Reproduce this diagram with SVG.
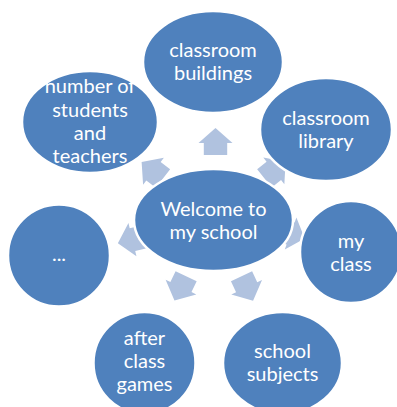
<svg xmlns="http://www.w3.org/2000/svg" width="397" height="407" viewBox="0 0 397 407">
<defs>
<style>
.node{fill:#4F81BD;stroke:#FFFFFF;stroke-width:2.5}
.lbl{font-family:Lato,"Liberation Sans",sans-serif;font-size:20px;fill:#FFFFFF;text-anchor:middle}
.arr{fill:#B0C2DF}
</style>
<path id="arrow" d="M0,-13.5 L17,1.5 L11.7,1.5 L11.7,13.5 L-11.7,13.5 L-11.7,1.5 L-17,1.5 Z"/>
</defs>
<rect width="397" height="407" fill="#FFFFFF"/>
<g id="connectors">
<use href="#arrow" class="arr" transform="translate(215.5,141.5)"/>
<use href="#arrow" class="arr" transform="translate(275,170) rotate(51.7)"/>
<use href="#arrow" class="arr" transform="translate(292,234) rotate(110)"/>
<use href="#arrow" class="arr" transform="translate(247.3,288.5) rotate(154.7)"/>
<use href="#arrow" class="arr" transform="translate(180.3,288.4) rotate(205.6)"/>
<use href="#arrow" class="arr" transform="translate(131,240) rotate(256.4)"/>
<use href="#arrow" class="arr" transform="translate(152.3,170.3) rotate(307.7)"/>
</g>
<g id="node-buildings">
<ellipse class="node" cx="213" cy="62" rx="70" ry="51"/>
<text class="lbl" x="213" y="57">classroom</text>
<text class="lbl" x="213" y="80">buildings</text>
</g>
<g id="node-library">
<ellipse class="node" cx="326" cy="129.5" rx="66" ry="51.5"/>
<text class="lbl" x="326" y="125">classroom</text>
<text class="lbl" x="326" y="148">library</text>
</g>
<g id="node-myclass">
<ellipse class="node" cx="351" cy="252" rx="51" ry="51"/>
<text class="lbl" x="351" y="248">my</text>
<text class="lbl" x="351" y="271">class</text>
</g>
<g id="node-subjects">
<ellipse class="node" cx="282.5" cy="363" rx="59.5" ry="51"/>
<text class="lbl" x="282.5" y="358">school</text>
<text class="lbl" x="282.5" y="381">subjects</text>
</g>
<g id="node-games">
<ellipse class="node" cx="144.5" cy="363" rx="51" ry="51"/>
<text class="lbl" x="144.5" y="345">after</text>
<text class="lbl" x="144.5" y="368">class</text>
<text class="lbl" x="144.5" y="391">games</text>
</g>
<g id="node-more">
<ellipse class="node" cx="59" cy="255.5" rx="51" ry="51"/>
<text class="lbl" x="59" y="261">...</text>
</g>
<g id="node-number">
<ellipse class="node" cx="90" cy="122" rx="68" ry="51"/>
<text class="lbl" x="90" y="93">number of</text>
<text class="lbl" x="90" y="116.5">students</text>
<text class="lbl" x="90" y="140">and</text>
<text class="lbl" x="90" y="163">teachers</text>
</g>
<g id="node-center">
<ellipse class="node" cx="213.5" cy="220" rx="79.5" ry="51"/>
<text class="lbl" x="213.5" y="216">Welcome to</text>
<text class="lbl" x="213.5" y="239">my school</text>
</g>
</svg>
